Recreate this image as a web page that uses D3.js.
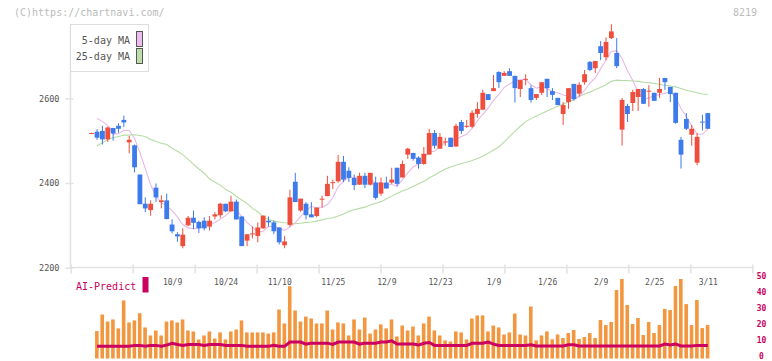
<!DOCTYPE html>
<html>
<head>
<meta charset="utf-8">
<script src="https://cdn.jsdelivr.net/npm/d3@7"></script>
<style>
body { margin: 0; background: #fff; }
text { font-family: "DejaVu Sans Mono", "Liberation Mono", monospace; }
</style>
</head>
<body>
<div id="chart"></div>
<script>
// daily candles, index 0 .. 115
var openP = [2518,2521,2523,2503,2530,2535,2549,2496,2489,2420,
    2351,2336,2389,2355,2359,2302,2279,2251,2300,2318,
    2308,2311,2297,2321,2324,2351,2333,2356,2321,2264,
    2280,2275,2293,2311,2307,2295,2253,2301,2403,2335,
    2351,2326,2322,2362,2369,2400,2404,2450,2429,2412,
    2396,2417,2396,2401,2375,2401,2401,2436,2413,2467,
    2471,2460,2445,2467,2518,2481,2497,2507,2486,2544,
    2534,2533,2563,2573,2610,2617,2662,2653,2664,2653,
    2622,2645,2624,2601,2613,2646,2617,2601,2563,2591,
    2634,2611,2638,2686,2671,2723,2697,2742,2707,2526,
    2582,2589,2603,2622,2617,2613,2613,2648,2627,2613,
    2502,2551,2514,2448,2545,2565];
var closeP = [2518,2507,2503,2531,2517,2528,2543,2502,2437,2350,
    2340,2351,2366,2359,2315,2286,2274,2278,2318,2306,
    2293,2293,2311,2326,2351,2333,2356,2314,2251,2279,
    2281,2295,2323,2307,2286,2260,2262,2366,2355,2363,
    2324,2319,2342,2363,2398,2402,2450,2408,2412,2395,
    2417,2396,2424,2365,2401,2387,2408,2398,2445,2481,
    2457,2445,2469,2518,2488,2509,2498,2485,2535,2523,
    2535,2566,2575,2613,2596,2624,2638,2660,2653,2624,
    2643,2646,2596,2610,2638,2624,2608,2584,2584,2624,
    2598,2632,2657,2667,2688,2707,2733,2758,2676,2596,
    2563,2615,2622,2587,2618,2594,2622,2638,2610,2542,
    2467,2528,2528,2509,2543,2528];
var highP = [2519,2527,2535,2533,2530,2541,2559,2511,2491,2420,
    2366,2359,2399,2371,2375,2314,2284,2293,2322,2335,
    2311,2319,2322,2331,2353,2351,2370,2361,2321,2279,
    2297,2307,2323,2321,2311,2295,2275,2384,2424,2363,
    2355,2355,2342,2370,2417,2408,2466,2464,2437,2420,
    2424,2424,2424,2415,2413,2415,2436,2436,2453,2483,
    2471,2463,2485,2528,2525,2518,2507,2507,2540,2549,
    2549,2572,2591,2620,2610,2655,2664,2664,2671,2653,
    2643,2657,2631,2610,2638,2646,2624,2601,2591,2624,
    2634,2638,2667,2688,2688,2735,2744,2775,2742,2601,
    2587,2620,2622,2624,2631,2613,2648,2648,2627,2613,
    2509,2565,2537,2518,2561,2565];
var lowP = [2517,2502,2491,2497,2500,2519,2532,2470,2425,2350,
    2331,2323,2355,2340,2314,2281,2261,2246,2298,2291,
    2282,2288,2288,2314,2318,2331,2333,2314,2251,2251,
    2269,2260,2292,2297,2279,2255,2246,2297,2355,2332,
    2314,2319,2319,2342,2369,2386,2401,2402,2402,2383,
    2396,2388,2394,2361,2370,2387,2398,2392,2413,2457,
    2453,2434,2443,2467,2481,2481,2488,2485,2486,2516,
    2530,2530,2554,2573,2596,2617,2624,2653,2653,2590,
    2603,2631,2590,2596,2608,2603,2596,2584,2537,2575,
    2594,2604,2632,2664,2660,2690,2690,2740,2671,2488,
    2544,2570,2570,2587,2580,2594,2601,2620,2591,2540,
    2434,2525,2488,2442,2524,2528];

var ma5 = [null,2553,2545,2536,2515,2517,2524,2524,2505,2472,
    2434,2396,2369,2353,2346,2335,2320,2302,2294,2292,
    2294,2298,2304,2306,2315,2323,2335,2336,2321,2307,
    2296,2284,2286,2297,2298,2294,2288,2296,2306,2321,
    2334,2345,2341,2342,2349,2365,2391,2404,2414,2413,
    2416,2406,2409,2399,2401,2395,2397,2392,2408,2424,
    2438,2445,2459,2474,2475,2486,2496,2500,2503,2510,
    2515,2529,2547,2562,2577,2595,2609,2626,2634,2640,
    2644,2645,2632,2624,2627,2623,2615,2613,2608,2605,
    2600,2604,2619,2636,2648,2670,2690,2711,2712,2694,
    2665,2642,2614,2597,2601,2607,2609,2612,2616,2601,
    2576,2557,2535,2515,2515,2527];
var ma25 = [null,2488,2495,2503,2507,2510,2513,2513,2514,2512,
    2510,2503,2498,2494,2491,2482,2475,2467,2456,2444,
    2433,2423,2410,2402,2395,2385,2378,2368,2360,2352,
    2340,2332,2320,2314,2310,2308,2306,2305,2304,2305,
    2307,2308,2310,2313,2316,2318,2322,2327,2333,2337,
    2340,2343,2348,2352,2356,2362,2369,2375,2381,2386,
    2392,2398,2404,2412,2419,2426,2433,2438,2442,2446,
    2449,2453,2458,2463,2470,2478,2485,2497,2510,2522,
    2534,2545,2552,2558,2564,2570,2576,2581,2586,2592,
    2597,2604,2610,2615,2620,2626,2632,2640,2643,2642,
    2642,2641,2640,2638,2637,2635,2633,2631,2629,2627,
    2623,2619,2616,2613,2610,2609];

var volume = [null,17.1,27.5,23.1,24.4,18.8,36.3,22.5,23.8,28.3,
    19.4,14.4,17.5,14.4,23.1,23.8,22.5,24.4,17.5,16.9,
    11.9,14.4,16.9,12.5,16.3,11.9,16.9,18.1,23.8,16.3,
    16.3,16.3,16.3,15.6,16.3,30.6,21.9,45.2,30,23.1,
    26.2,25,21.9,21.9,30,18.1,22.5,21.9,14.4,24.4,
    18.1,25.6,15.6,18.1,21.3,18.8,24.4,13.8,20.6,17.5,
    20,14.4,21.9,26.2,17.5,14.4,11.3,10.6,16.9,16.3,
    11.9,25,26.9,26.9,16.9,20.6,19.4,15,16.3,28.1,
    15,14.4,32.5,11.3,14.4,16.9,12,15,12.8,15.9,
    17.8,12.2,13.4,15.9,12.8,24.1,20.9,22.8,42.8,49.7,
    33.4,21.6,25.3,14.7,22.8,15.9,20.9,31,30.3,45.3,
    49.7,34,20.9,36.6,19,20.9];
var aiPredict = [null,7.6,7.6,7.6,7.6,7.6,7.6,7.6,8.2,8.2,
    7.6,8.2,8.2,7.6,8.4,9.5,8.8,8.2,8.8,8.8,
    8.8,8.2,8.8,8.8,8.8,8.2,8.2,8.2,8.2,7.6,
    7.6,7.6,7.6,7.6,8.2,7.6,7.6,10.3,10.3,10.3,
    9,9.6,9.6,9.6,9.6,8.8,10.3,10.3,10.3,10.3,
    9,9.6,9.6,9.6,10.3,10.3,11,9,9,9,
    9,8.4,9.5,10,8.2,8.2,8.2,8.2,8.2,8.2,
    8.2,9.5,9.5,9.5,10.3,9,8.2,8.2,8.2,8.2,
    8.2,8.2,8.6,7.8,7.8,7.8,7.8,7.8,7.8,8.6,
    8.6,7.8,7.8,7.8,7.8,7.8,7.8,7.8,7.8,7.8,
    7.8,7.8,7.8,7.8,7.8,7.8,7.8,9,8.4,9,
    7.8,7.8,7.8,8.2,8.2,8.2];

var dateLabels = ['10/9','10/24','11/10','11/25','12/9','12/23','1/9','1/26','2/9','2/25','3/11'];
var dateIdx = [15,25,35,45,55,65,75,85,95,105,115];
var priceTicks = [2200, 2400, 2600];
var volTicks = [0, 10, 20, 30, 40, 50];

var upColor = '#f04e3c', downColor = '#3d7aeb';
var ma5Color = '#e8b8e8', ma25Color = '#b5dca5';
var aiColor = '#cc0060', volColor = '#f2973f';
var axisColor = '#e2e2e2';

var svg = d3.select('#chart')
            .append('svg')
            .attr('width', 772)
            .attr('height', 361);

var x = d3.scaleLinear().domain([0, 115]).range([91.7, 707.8]);
var y = d3.scaleLinear().domain([2200, 2600]).range([267.7, 98.3]);
var yv = d3.scaleLinear().domain([0, 50]).range([358.5, 278.5]);
var gridX = d3.scaleLinear().domain([0, 11]).range([70.7, 752.3]);

// header texts
svg.append('text').attr('x', 14).attr('y', 16)
    .style('font-size', '10px').style('fill', '#bbb')
    .text('(C)https://chartnavi.com/');
svg.append('text').attr('x', 757).attr('y', 16)
    .attr('text-anchor', 'end')
    .style('font-size', '10px').style('fill', '#bbb')
    .text('8219');

// left axis
var yAxis = d3.axisLeft(y).tickValues(priceTicks).tickSize(5).tickPadding(6)
    .tickFormat(d3.format('d'));
var gy = svg.append('g').attr('transform', 'translate(70.5,0)').call(yAxis);
gy.select('.domain').remove();
gy.selectAll('.tick line').attr('x1', -5).attr('x2', 3)
    .attr('stroke', axisColor).attr('stroke-width', 1.5);
gy.selectAll('.tick text').style('font-size', '8.5px').style('fill', '#555')
    .style('font-family', '"DejaVu Sans Mono", monospace');
svg.append('line').attr('x1', 70.5).attr('x2', 70.5).attr('y1', 24).attr('y2', 268)
    .attr('stroke', axisColor).attr('stroke-width', 1.5);

// bottom axis with evenly spaced ticks
var gx = svg.append('g').attr('transform', 'translate(0,267.5)')
    .call(d3.axisBottom(gridX).tickValues(d3.range(12)).tickFormat(''));
gx.select('.domain').remove();
gx.selectAll('.tick line').attr('y1', -3).attr('y2', 6)
    .attr('stroke', axisColor).attr('stroke-width', 1.5);
svg.append('line').attr('x1', 70.5).attr('x2', 752.5).attr('y1', 267.5).attr('y2', 267.5)
    .attr('stroke', axisColor).attr('stroke-width', 1.5);

// date labels
var gd = svg.append('g').attr('transform', 'translate(0,277)')
    .call(d3.axisBottom(x).tickValues(dateIdx).tickSize(0).tickPadding(2)
        .tickFormat(function (d, i) { return dateLabels[i]; }));
gd.select('.domain').remove();
gd.selectAll('text').style('font-size', '8px').style('fill', '#555')
    .style('font-family', '"DejaVu Sans Mono", monospace');

// right axis for lower panel
var gr = svg.append('g').attr('transform', 'translate(761.5,0)')
    .call(d3.axisRight(yv).tickValues(volTicks).tickSize(0).tickPadding(0));
gr.select('.domain').remove();
gr.selectAll('text').attr('text-anchor', 'middle').attr('x', 0).attr('dy', '0.05em')
    .style('font-size', '8px').style('font-weight', 'bold').style('fill', aiColor)
    .style('font-family', '"DejaVu Sans Mono", monospace');

// volume bars
var idx = d3.range(openP.length);
svg.append('g').selectAll('rect')
    .data(idx.filter(function (i) { return volume[i] != null; }))
    .enter().append('rect')
    .attr('x', function (i) { return x(i) - 2; })
    .attr('width', 3.6)
    .attr('y', function (i) { return yv(volume[i]); })
    .attr('height', function (i) { return yv(0) - yv(volume[i]); })
    .attr('fill', volColor);

// AI predict line
var aiLine = d3.line()
    .defined(function (i) { return aiPredict[i] != null; })
    .x(function (i) { return x(i); })
    .y(function (i) { return yv(aiPredict[i]); });
svg.append('path').datum(idx).attr('d', aiLine)
    .attr('fill', 'none').attr('stroke', aiColor).attr('stroke-width', 3);

svg.append('text').attr('x', 76).attr('y', 290)
    .style('font-size', '10px').style('fill', aiColor)
    .text('AI-Predict');
svg.append('rect').attr('x', 142.5).attr('y', 277).attr('width', 6).attr('height', 15.5)
    .attr('fill', aiColor);

// moving averages
function maLine(arr) {
    return d3.line()
        .defined(function (i) { return arr[i] != null; })
        .x(function (i) { return x(i); })
        .y(function (i) { return y(arr[i]); });
}
svg.append('path').datum(idx).attr('d', maLine(ma25))
    .attr('fill', 'none').attr('stroke', ma25Color).attr('stroke-width', 1.1);
svg.append('path').datum(idx).attr('d', maLine(ma5))
    .attr('fill', 'none').attr('stroke', ma5Color).attr('stroke-width', 1.1);

// candles
var candle = svg.append('g').selectAll('g')
    .data(idx).enter().append('g');
candle.append('line')
    .attr('x1', function (i) { return x(i); })
    .attr('x2', function (i) { return x(i); })
    .attr('y1', function (i) { return y(highP[i]); })
    .attr('y2', function (i) { return y(lowP[i]); })
    .attr('stroke', function (i) { return closeP[i] >= openP[i] ? upColor : downColor; })
    .attr('stroke-width', 1);
candle.append('rect')
    .attr('x', function (i) { return x(i) - 2.4; })
    .attr('width', 4.8)
    .attr('y', function (i) { return y(Math.max(openP[i], closeP[i])); })
    .attr('height', function (i) {
        return Math.max(1, Math.abs(y(openP[i]) - y(closeP[i])));
    })
    .attr('fill', function (i) { return closeP[i] >= openP[i] ? upColor : downColor; });

// legend
var lg = svg.append('g');
lg.append('rect').attr('x', 70.5).attr('y', 24.5).attr('width', 78).attr('height', 47)
    .attr('fill', '#fff').attr('stroke', '#ddd');
lg.append('text').attr('x', 130).attr('y', 44).attr('text-anchor', 'end')
    .style('font-size', '10px').style('fill', '#555').text('5-day MA');
lg.append('text').attr('x', 130).attr('y', 60).attr('text-anchor', 'end')
    .style('font-size', '10px').style('fill', '#555').text('25-day MA');
lg.append('rect').attr('x', 136.5).attr('y', 31.5).attr('width', 6).attr('height', 15)
    .attr('fill', '#eebbee').attr('stroke', '#555');
lg.append('rect').attr('x', 136.5).attr('y', 48.5).attr('width', 6).attr('height', 15)
    .attr('fill', '#bbddaa').attr('stroke', '#555');
</script>
</body>
</html>
